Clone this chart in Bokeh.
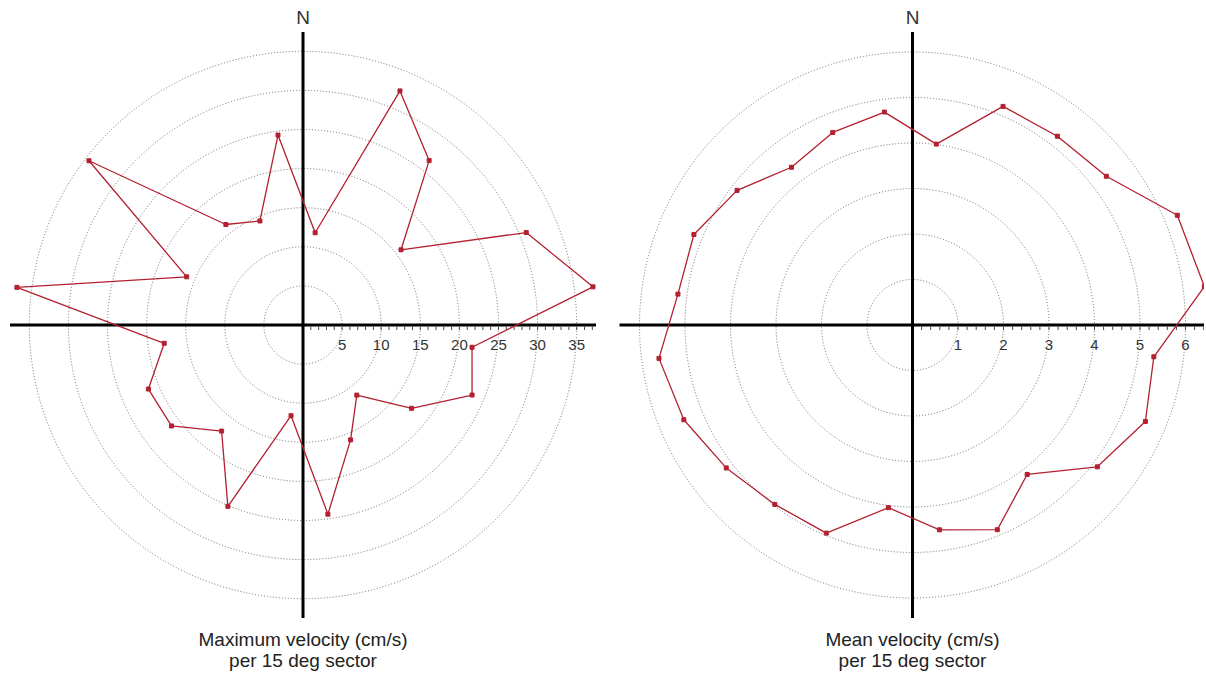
import numpy as np
from bokeh.plotting import figure
from bokeh.layouts import row
from bokeh.models import Range1d
from bokeh.core.properties import value
from bokeh.embed import file_html
from bokeh.resources import INLINE

# ---- data: 24 sectors of 15 deg, clockwise from North, sector centres ----
sector_deg = [7.5 + 15 * k for k in range(24)]
max_velocity = [11.9, 32.4, 26.5, 15.8, 30.9, 37.4, 21.8, 23.4, 17.5, 11.3, 15.9, 24.4,
                11.7, 25.1, 17.1, 21.2, 21.4, 17.9, 36.9, 16.1, 34.5, 16.2, 14.4, 24.5]
mean_velocity = [4.01, 5.20, 5.23, 5.37, 6.30, 6.47, 5.35, 5.54, 5.12, 4.14, 4.87, 4.54,
                 4.05, 4.95, 4.97, 5.16, 5.44, 5.62, 5.20, 5.20, 4.86, 4.37, 4.58, 4.72]
max_rings = [5, 10, 15, 20, 25, 30, 35]
mean_rings = [1, 2, 3, 4, 5, 6]
max_title = ["Maximum velocity (cm/s)", "per 15 deg sector"]
mean_title = ["Mean velocity (cm/s)", "per 15 deg sector"]

FONT = value("Liberation Sans")
RED = "#b3202f"
H = 676


def polar_panel(values, rings, minor_step, n_minor, title, W, cx_px, cy_px, scale):
    # cx_px, cy_px: centre in frame pixels; scale: pixels per data unit
    p = figure(width=W, height=H, output_backend="svg", toolbar_location=None,
               x_range=Range1d(-cx_px / scale, (W - cx_px) / scale),
               y_range=Range1d(-(H - cy_px) / scale, cy_px / scale),
               min_border=0)
    p.axis.visible = False
    p.grid.visible = False
    p.outline_line_color = None
    p.background_fill_color = "white"

    px = 1.0 / scale
    # dotted rings
    p.circle(x=[0] * len(rings), y=[0] * len(rings), radius=rings,
             fill_color=None, line_color="#6e6e6e", line_dash="1 2", line_width=1)

    # axes
    L = 293 * px
    p.line([-L, L], [0, 0], line_color="black", line_width=3)
    p.line([0, 0], [-L, L], line_color="black", line_width=3)

    # minor ticks on positive x-axis
    tx = [minor_step * (i + 1) for i in range(n_minor)]
    p.segment(x0=tx, y0=[-1.5 * px] * len(tx), x1=tx, y1=[-5 * px] * len(tx),
              line_color="#444444", line_width=1)

    # tick labels at rings
    p.text(x=rings, y=[-20 * px] * len(rings), text=[str(r) for r in rings],
           text_font=FONT, text_font_size="15px", text_color="#333333",
           text_align="center", text_baseline="middle")

    # N label
    p.text(x=[0], y=[308 * px], text=["N"], text_font=FONT, text_font_size="19px",
           text_color="#333333", text_align="center", text_baseline="middle")

    # title lines
    p.text(x=[0, 0], y=[-314 * px, -335 * px], text=title, text_font=FONT,
           text_font_size="19px", text_color="#222222", text_align="center",
           text_baseline="middle")

    # data polygon
    th = np.radians(sector_deg)
    r = np.array(values)
    xs = list(r * np.sin(th)) + [r[0] * np.sin(th[0])]
    ys = list(r * np.cos(th)) + [r[0] * np.cos(th[0])]
    p.line(xs, ys, line_color=RED, line_width=1.3)
    p.scatter(xs[:-1], ys[:-1], marker="square", size=4, fill_color=RED, line_color=RED)
    return p


p1 = polar_panel(max_velocity, max_rings, 1.0, 37, max_title, 600, 302.5, 324.5, 7.82)
p2 = polar_panel(mean_velocity, mean_rings, 0.2, 32, mean_title, 604, 312.0, 324.5, 45.5)

layout = row(p1, p2, spacing=0)
open("out.html", "w").write(file_html(layout, INLINE))
